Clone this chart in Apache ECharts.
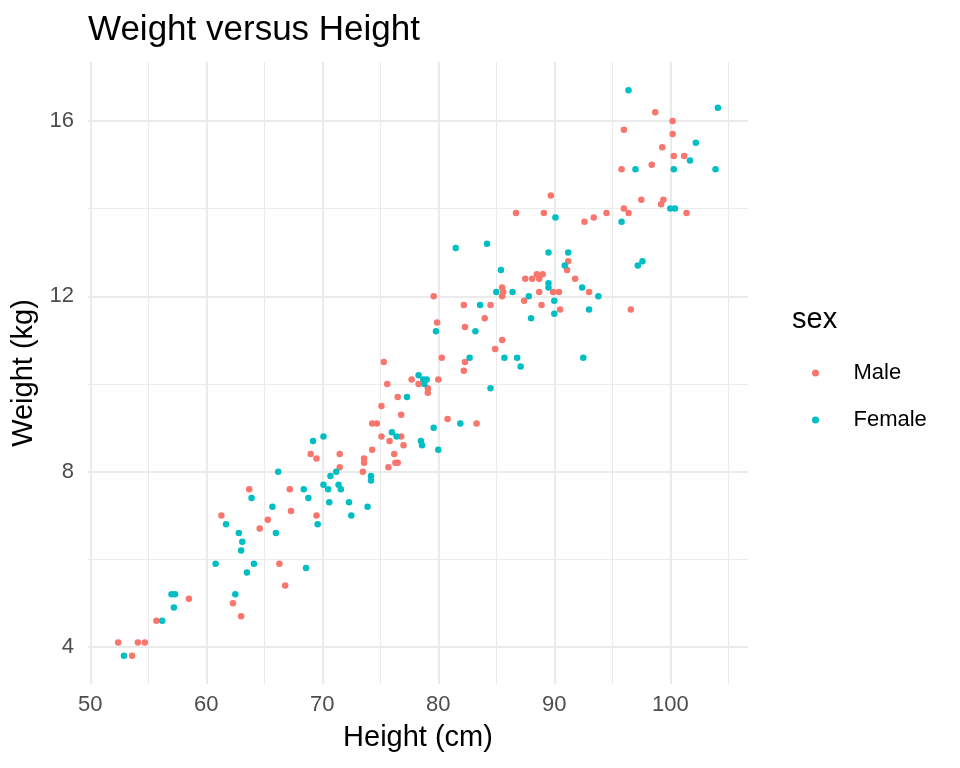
<!DOCTYPE html>
<html>
<head>
<meta charset="utf-8">
<script src="https://cdn.jsdelivr.net/npm/echarts@6/dist/echarts.min.js"></script>
<style>
  html, body { margin: 0; padding: 0; background: #fff; }
  #main { width: 960px; height: 768px; }
</style>
</head>
<body>
<div id="main"></div>
<script>
// data: [height (cm), weight (kg)]
var male = [
  [52.4,4.1],[53.6,3.8],[54.1,4.1],[54.7,4.1],[55.7,4.6],[58.5,5.1],[61.3,7.0],[63.7,7.6],
  [62.3,5.0],[63.0,4.7],[64.6,6.7],[65.3,6.9],[66.3,5.9],[66.8,5.4],[67.2,7.6],[67.3,7.1],
  [69.5,7.0],[69.0,8.4],[69.5,8.3],[71.5,8.4],[71.5,8.1],[73.5,8.0],[73.6,8.3],[73.6,8.2],
  [74.3,8.5],[75.1,8.8],[75.1,9.5],[75.3,10.5],[75.6,10.0],[74.3,9.1],[74.7,9.1],[75.8,8.7],
  [76.8,8.8],[76.2,8.4],[75.7,8.1],[76.3,8.2],[76.5,8.2],[77.0,8.6],[76.8,9.3],[76.5,9.7],
  [77.7,10.1],[78.3,10.0],[79.1,9.9],[79.1,9.8],[80.0,10.1],[80.3,10.6],[80.8,9.2],[83.3,9.1],
  [79.6,12.0],[79.9,11.4],[82.2,11.8],[82.3,11.3],[84.5,11.8],[84.0,11.5],[85.5,11.0],[84.9,10.8],
  [82.3,10.5],[82.2,10.3],[85.5,12.2],[85.6,12.1],[85.5,12.0],[87.5,12.4],[88.1,12.4],[88.5,12.5],
  [89.0,12.5],[88.7,12.4],[88.7,12.1],[87.4,11.9],[88.9,11.8],[89.9,12.1],[90.4,12.1],[90.5,11.7],
  [91.2,12.8],[91.1,12.6],[91.8,12.4],[93.0,12.1],[96.6,11.7],[92.6,13.7],[89.7,14.3],[86.7,13.9],
  [89.1,13.9],[93.4,13.8],[94.5,13.9],[98.7,16.2],[100.2,16.0],[96.0,15.8],[100.2,15.7],[99.3,15.4],
  [100.3,15.2],[101.2,15.2],[95.8,14.9],[98.4,15.0],[97.5,14.2],[99.4,14.2],[99.2,14.1],[96.0,14.0],
  [96.4,13.9],[101.4,13.9]
];
var female = [
  [52.9,3.8],[56.2,4.6],[57.0,5.2],[57.3,5.2],[57.2,4.9],[61.7,6.8],[63.9,7.4],[60.8,5.9],
  [62.5,5.2],[62.8,6.6],[63.1,6.4],[63.0,6.2],[63.5,5.7],[64.1,5.9],[65.7,7.2],[66.0,6.6],
  [66.2,8.0],[68.4,7.6],[68.8,7.4],[68.6,5.8],[69.6,6.8],[69.2,8.7],[70.1,8.8],[70.1,7.7],
  [70.5,7.6],[70.6,7.3],[70.7,7.9],[71.2,8.0],[71.4,7.7],[71.6,7.6],[72.3,7.3],[72.5,7.0],
  [73.9,7.2],[74.2,7.9],[74.2,7.8],[76.0,8.9],[76.4,8.8],[77.3,9.7],[78.3,10.2],[78.7,10.1],
  [79.0,10.1],[78.8,10.0],[79.6,9.0],[78.5,8.7],[78.6,8.6],[80.0,8.5],[84.5,9.9],[81.9,9.1],
  [79.8,11.2],[83.2,11.2],[83.6,11.8],[82.7,10.6],[85.7,10.6],[86.8,10.6],[87.1,10.4],[92.5,10.6],
  [81.5,13.1],[84.2,13.2],[85.4,12.6],[85.0,12.1],[86.4,12.1],[89.5,12.3],[89.5,12.2],[87.8,12.0],
  [88.0,11.5],[90.0,11.9],[90.0,11.6],[89.5,13.0],[91.2,13.0],[90.9,12.7],[92.4,12.2],[93.8,12.0],
  [93.0,11.7],[95.8,13.7],[90.1,13.8],[96.4,16.7],[104.1,16.3],[102.2,15.5],[101.7,15.1],[97.0,14.9],
  [100.3,14.9],[103.9,14.9],[100.0,14.0],[100.4,14.0],[97.2,12.7],[97.6,12.8]
];
var xTicks = [50, 60, 70, 80, 90, 100];
var xMinor = [55, 65, 75, 85, 95, 105];
var yTicks = [4, 8, 12, 16];
var yMinor = [6, 10, 14];

var colors = ['#F8766D', '#00BFC4'];
var gridColor = '#EBEBEB';
var font = 'Liberation Sans, Arial, sans-serif';

var chart = echarts.init(document.getElementById('main'));

// grid lines as markLines so they sit on the same values as ggplot's
var gridLines = [];
xTicks.forEach(function (v) { gridLines.push({ xAxis: v, lineStyle: { width: 2.2 } }); });
xMinor.forEach(function (v) { gridLines.push({ xAxis: v, lineStyle: { width: 1.1 } }); });
yTicks.forEach(function (v) { gridLines.push({ yAxis: v, lineStyle: { width: 2.2 } }); });
yMinor.forEach(function (v) { gridLines.push({ yAxis: v, lineStyle: { width: 1.1 } }); });

chart.setOption({
  animation: false,
  backgroundColor: '#fff',
  textStyle: { fontFamily: font },
  title: {
    text: 'Weight versus Height',
    left: 83,
    top: 8,
    textStyle: { fontSize: 35, fontWeight: 'normal', color: '#000', fontFamily: font }
  },
  legend: {
    data: ['Male', 'Female'],
    orient: 'vertical',
    left: 807,
    top: 357,
    icon: 'circle',
    itemWidth: 66,
    itemHeight: 7,
    itemGap: 25,
    textStyle: { fontSize: 22, color: '#000' }
  },
  graphic: [{
    type: 'text',
    left: 792,
    top: 305,
    style: { text: 'sex', fontSize: 29, fill: '#000', fontFamily: font }
  }],
  grid: { left: 88, right: 212, top: 62, bottom: 84 },
  xAxis: {
    type: 'value',
    min: 49.8,
    max: 106.7,
    name: 'Height (cm)',
    nameLocation: 'middle',
    nameGap: 39,
    nameTextStyle: { fontSize: 29, color: '#000' },
    axisLine: { show: false },
    axisTick: { show: false },
    splitLine: { show: false },
    axisLabel: { customValues: xTicks, fontSize: 22, color: '#4D4D4D', margin: 10 }
  },
  yAxis: {
    type: 'value',
    min: 3.155,
    max: 17.345,
    name: 'Weight (kg)',
    nameLocation: 'middle',
    nameGap: 44,
    nameTextStyle: { fontSize: 29, color: '#000' },
    axisLine: { show: false },
    axisTick: { show: false },
    splitLine: { show: false },
    axisLabel: { customValues: yTicks, fontSize: 22, color: '#4D4D4D', margin: 14 }
  },
  series: [
    {
      name: 'grid',
      type: 'scatter',
      data: [],
      silent: true,
      z: 0,
      markLine: {
        silent: true,
        z: 0,
        symbol: ['none', 'none'],
        label: { show: false },
        lineStyle: { color: gridColor, type: 'solid' },
        data: gridLines
      }
    },
    {
      name: 'Male',
      type: 'scatter',
      data: male,
      symbolSize: 6.5,
      z: 3,
      itemStyle: { color: colors[0], opacity: 1 }
    },
    {
      name: 'Female',
      type: 'scatter',
      data: female,
      symbolSize: 6.5,
      z: 3,
      itemStyle: { color: colors[1], opacity: 1 }
    }
  ]
});
</script>
</body>
</html>
